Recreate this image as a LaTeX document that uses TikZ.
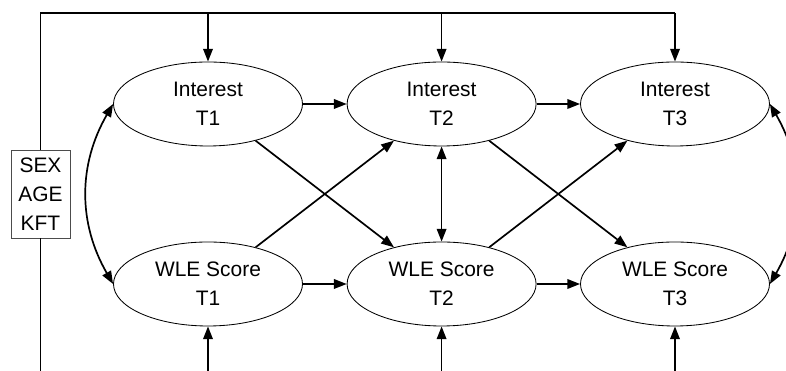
\documentclass[tikz,border=0pt]{standalone}
\usepackage{fontspec}
\setmainfont{Liberation Sans}
\usetikzlibrary{shapes,arrows,positioning,calc,arrows.meta}

\begin{document}
\begin{tikzpicture}[font=\fontsize{14.9}{20.6}\selectfont,
        latent/.style={draw, ellipse, line width=0.6pt, minimum width=4.725cm, minimum height=2.1cm, inner sep=0pt, align=center},
        effect/.style={-{Triangle[length=3.2mm,width=2.4mm]}, line width=1.2pt},
        covar/.style={{Triangle[length=3.2mm,width=2.4mm]}-{Triangle[length=3.2mm,width=2.4mm]}, line width=1.2pt}]
        \useasboundingbox (0,0) rectangle (19.65,9.275);

        % Interest row
        \node [latent] (i1) at (5.2,6.675) {Interest\\T1};
        \node [latent] (i2) at (11.04,6.675) {Interest\\T2};
        \node [latent] (i3) at (16.875,6.675) {Interest\\T3};

        % WLE row
        \node [latent] (w1) at (5.2,2.175) {WLE Score\\T1};
        \node [latent] (w2) at (11.04,2.175) {WLE Score\\T2};
        \node [latent] (w3) at (16.875,2.175) {WLE Score\\T3};

        % covariates
        \node [draw=black!70, line width=0.6pt, minimum width=1.475cm, minimum height=2.2cm, inner sep=0pt, align=center] (cov) at (1.0125,4.425) {SEX\\AGE\\KFT};
        \coordinate (tl) at (1.0125,8.95);
        \coordinate (bl) at (1.0125,0);
        \coordinate (t1) at (5.2,8.95);
        \coordinate (t2) at (11.04,8.95);
        \coordinate (t3) at (16.875,8.95);
        \coordinate (b1) at (5.2,0);
        \coordinate (b2) at (11.04,0);
        \coordinate (b3) at (16.875,0);

        \draw [line width=1.2pt] (cov.north) -- (tl) -- (t3);
        \draw [line width=1.2pt] (cov.south) -- (bl);
        \draw [effect] (t1) -- (i1);
        \draw [effect] (t2) -- (i2);
        \draw [effect] (t3) -- (i3);
        \draw [effect] (b1) -- (w1);
        \draw [effect] (b2) -- (w2);
        \draw [effect] (b3) -- (w3);

        % stability paths
        \draw [effect] (i1) -- (i2);
        \draw [effect] (i2) -- (i3);
        \draw [effect] (w1) -- (w2);
        \draw [effect] (w2) -- (w3);

        % cross-lagged paths
        \draw [effect] (i1) -- (w2);
        \draw [effect] (w1) -- (i2);
        \draw [effect] (i2) -- (w3);
        \draw [effect] (w2) -- (i3);

        % correlations
        \draw [covar] (i1.west) to [bend right=30] (w1.west);
        \draw [covar] (i2) -- (w2);
        \draw [covar] (i3.east) to [bend left=30] (w3.east);
    \end{tikzpicture}
\end{document}
